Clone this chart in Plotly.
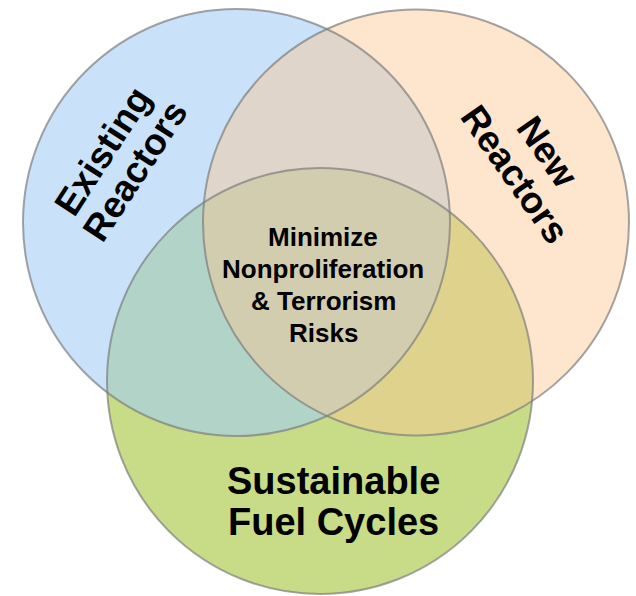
import math
import plotly.graph_objects as go

# ---- data ----
set_names = ["Existing Reactors", "New Reactors", "Sustainable Fuel Cycles"]
center_x = [236.5, 416.0, 320.0]
center_y = [222.5, 222.5, 381.0]
radius = [213.5, 213.0, 213.0]
fill_colors = ["rgba(162,205,246,0.58)", "rgba(250,197,146,0.45)", "rgb(200,220,136)"]
draw_order = [2, 0, 1]  # green bottom, blue, orange on top

label_lines = [["Existing", "Reactors"], ["New", "Reactors"], ["Sustainable", "Fuel Cycles"]]
center_lines = ["Minimize", "Nonproliferation", "& Terrorism", "Risks"]

W, H = 636, 596
fig = go.Figure()
fig.add_trace(go.Scatter(x=center_x, y=center_y, mode="markers",
                         marker=dict(opacity=0), hoverinfo="skip", showlegend=False))

for i in draw_order:
    fig.add_shape(type="circle", xref="x", yref="y",
                  x0=center_x[i] - radius[i], x1=center_x[i] + radius[i],
                  y0=center_y[i] - radius[i], y1=center_y[i] + radius[i],
                  fillcolor=fill_colors[i], line=dict(width=0))
for i in draw_order:
    fig.add_shape(type="circle", xref="x", yref="y",
                  x0=center_x[i] - radius[i], x1=center_x[i] + radius[i],
                  y0=center_y[i] - radius[i], y1=center_y[i] + radius[i],
                  fillcolor="rgba(0,0,0,0)", line=dict(width=2, color="rgba(125,125,125,0.7)"))

family = "Liberation Sans, Arial, Helvetica, sans-serif"

def block(lines, cx, cy, angle, spacing, size):
    a = math.radians(angle)
    # unit "down" vector in rotated text frame (screen coords, y down)
    nx, ny = -math.sin(a), math.cos(a)
    n = len(lines)
    for k, t in enumerate(lines):
        off = (k - (n - 1) / 2) * spacing
        fig.add_annotation(x=cx + nx * off, y=cy + ny * off, xref="x", yref="y",
                           text=t, showarrow=False, textangle=angle,
                           xanchor="center", yanchor="middle",
                           font=dict(family=family, size=size, color="black", weight="bold"))

block(label_lines[0], 119, 161, -57, 37, 37)
block(label_lines[1], 531, 163, 55, 39, 37)
block(label_lines[2], 333, 501, 0, 41, 38)
block(center_lines, 323, 285, 0, 31.7, 26)

fig.update_xaxes(range=[0, W], visible=False, fixedrange=True)
fig.update_yaxes(range=[H, 0], visible=False, fixedrange=True)
fig.update_layout(width=W, height=H, margin=dict(l=0, r=0, t=0, b=0),
                  paper_bgcolor="white", plot_bgcolor="white", showlegend=False)

fig.write_html("out.html", post_script="document.body.style.margin='0';",
               config={"displayModeBar": False})
